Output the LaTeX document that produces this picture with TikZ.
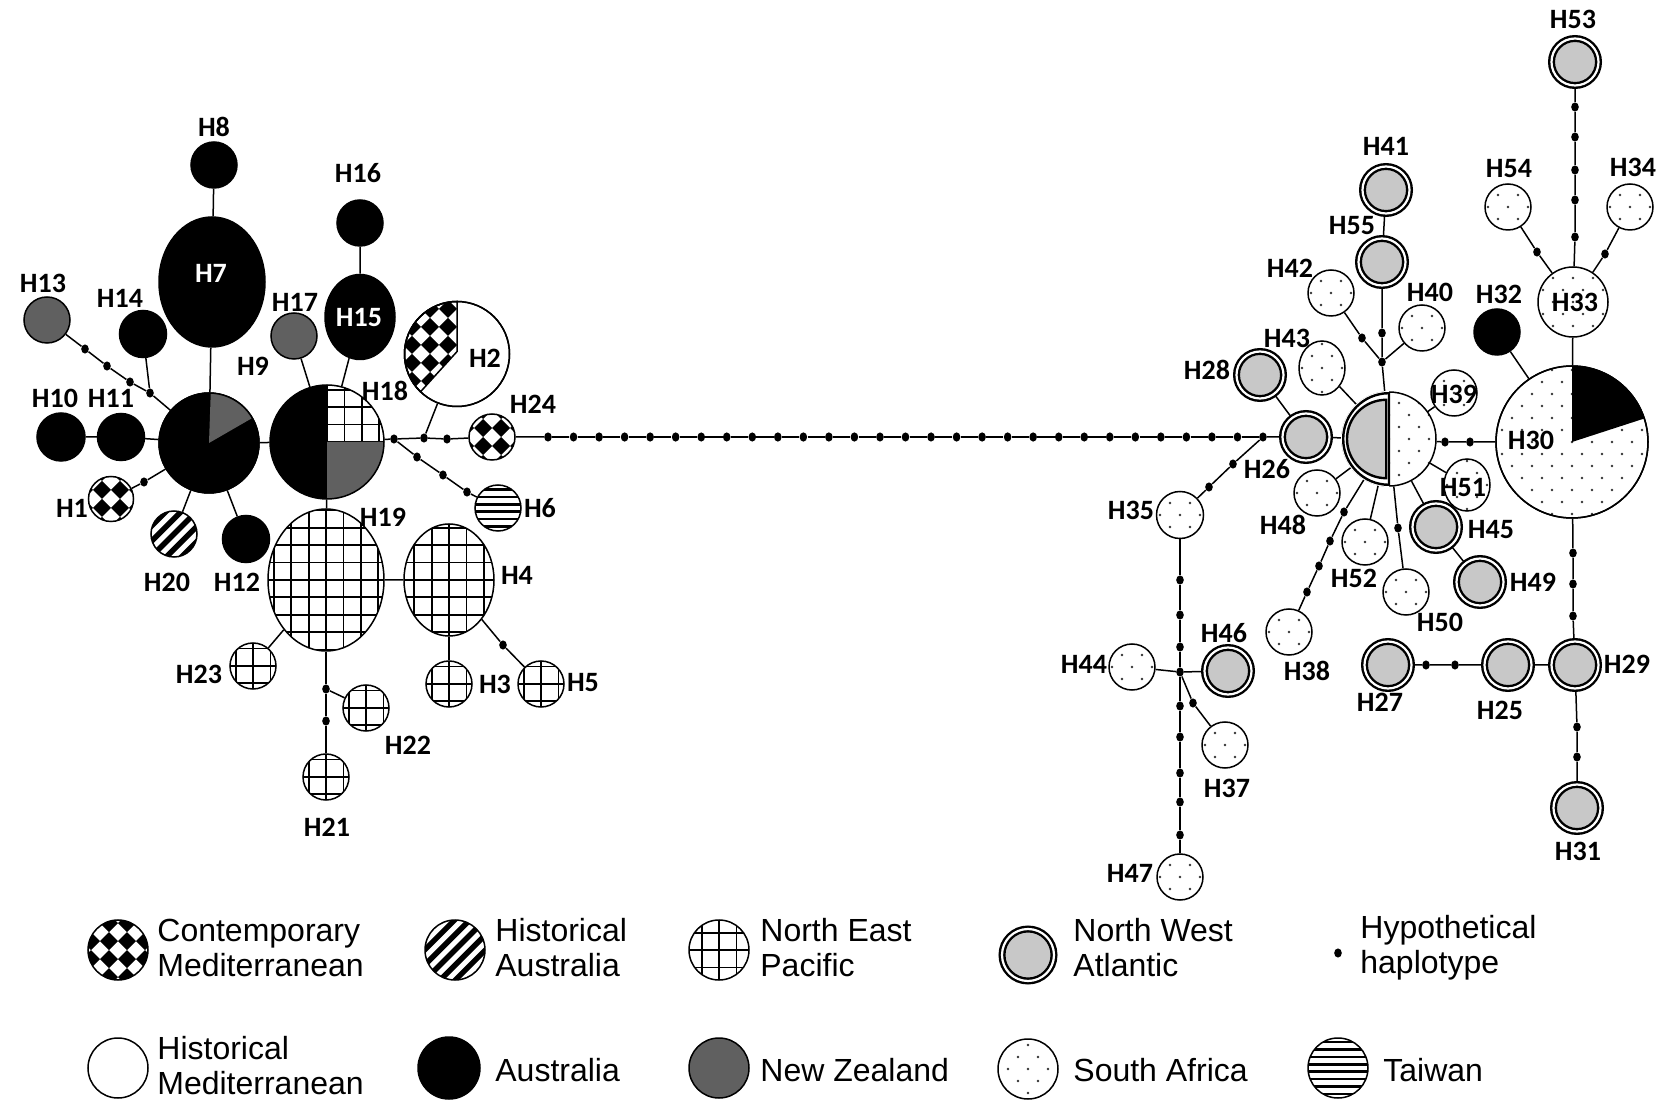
\documentclass[tikz,border=0pt]{standalone}
\usepackage{fontspec}
\setmainfont{Liberation Sans}
\newfontfamily\labfont{Carlito}
\usetikzlibrary{shapes.geometric}
\pgfdeclarelayer{bg}
\pgfsetlayers{bg,main}
\definecolor{nzg}{RGB}{96,96,96}
\definecolor{nwag}{RGB}{200,200,200}
\newcommand\hlab{\labfont\bfseries\fontsize{14pt}{16pt}\selectfont}
\newcommand\legf{\fontsize{16pt}{17.5pt}\selectfont}
\tikzset{
  ed/.style={line width=0.75pt},
  hap/.style={circle, draw=black, line width=0.75pt, inner sep=0pt, minimum size=#1pt},
  hapE/.style 2 args={ellipse, draw=black, line width=0.75pt, inner sep=0pt, minimum width=#1pt, minimum height=#2pt},
  hyp/.style={ellipse, fill=black, inner sep=0pt, minimum width=3.8pt, minimum height=4.6pt},
  lab/.style={font=\hlab, inner sep=0pt},
  pAUS/.style={fill=black},
  pNZ/.style={fill=nzg},
  pHM/.style={fill=white},
  pNWA/.style={circle, inner sep=0pt, minimum size=#1pt, fill=nwag, draw=black, line width=1.2pt, double=white, double distance=1.1pt},
  pSA/.style={fill=white, path picture={
    \foreach \j in {-7,...,7}{
      \foreach \i in {-4,...,4}{
        \pgfmathsetmacro\xo{\i*10+mod(abs(\j),2)*5}
        \fill[black!80] ([shift={(\xo pt,\j*6pt)}]path picture bounding box.center) circle[radius=0.7pt];
    }}}},
  pCM/.style={fill=white, path picture={
    \foreach \i in {-3,...,2}{\foreach \j in {-3,...,2}{
      \fill[black] ([shift={(\i*9pt,\j*9pt+4.5pt)}]path picture bounding box.center) -- ++(4.5pt,4.5pt) -- ++(4.5pt,-4.5pt) -- ++(-4.5pt,-4.5pt) -- cycle;
    }}}},
  pHA/.style={fill=white, path picture={
    \foreach \k in {-6,...,6}{
      \draw[line width=2.7pt] ([xshift=\k*7.6pt]path picture bounding box.center) ++(-22pt,-22pt) -- ++(44pt,44pt);
    }}},
  pNEP/.style={fill=white, path picture={
    \foreach \k in {-5,...,5}{
      \draw[line width=0.9pt] ([xshift=\k*8.7pt]path picture bounding box.center) ++(0,-40pt) -- ++(0,80pt);
      \draw[line width=0.9pt] ([yshift=\k*8.7pt]path picture bounding box.center) ++(-40pt,0) -- ++(80pt,0);
    }}},
  pTW/.style={fill=white, path picture={
    \foreach \k in {-5,...,4}{
      \draw[line width=1.3pt] ([yshift=\k*3.7pt+1.85pt]path picture bounding box.center) ++(-20pt,0) -- ++(40pt,0);
    }}},
}
\begin{document}
\begin{tikzpicture}[x=0.5pt,y=-0.5pt]
\useasboundingbox (0,0) rectangle (1678,1101);

% ---------------- left cluster ----------------
\node[hap=23, pAUS] (h8) at (214,165) {};
\node[hapE={53}{65}, pAUS] (h7) at (212,282) {};
\node[hap=23, pAUS] (h16) at (360,223) {};
\node[hapE={35}{42.5}, pAUS] (h15) at (360,317) {};
\node[hap=23, pNZ] (h13) at (47,320) {};
\node[hap=23.5, pAUS] (h14) at (143,334) {};
\node[hap=23, pNZ] (h17) at (294,336) {};
\node[hap=50, pAUS] (h9) at (209,443) {};
\node[circle, inner sep=0pt, minimum size=57pt] (h18) at (327,442) {};
\node[hap=24, pAUS] (h10) at (61,437) {};
\node[hap=23.5, pAUS] (h11) at (121,437) {};
\node[hap=22.5, pCM] (h1) at (111,499) {};
\node[hap=23, pHA] (h20) at (174,534) {};
\node[hap=23.5, pAUS] (h12) at (246,539) {};
\node[hap=52.5, pHM] (h2) at (457,354) {};
\node[hap=23, pCM] (h24) at (492,437) {};
\node[hap=23, pTW] (h6) at (498,508) {};
\node[hapE={58}{71}, pNEP] (h19) at (326,580) {};
\node[hapE={45}{56}, pNEP] (h4) at (449,580) {};
\node[hap=23, pNEP] (h23) at (253,666) {};
\node[hap=23, pNEP] (h21) at (326,777) {};
\node[hap=23, pNEP] (h22) at (366,708) {};
\node[hap=23, pNEP] (h3) at (449,684) {};
\node[hap=23, pNEP] (h5) at (541,684) {};

% H9 pie
\fill[nzg] (h9.center) -- ++(30:25pt) arc[start angle=30, end angle=88, radius=25pt] -- cycle;
\draw[line width=0.75pt] (h9.center) circle[radius=25pt];
% H18 pie
\fill[white] (h18.center) circle[radius=28.5pt];
\fill[black] (h18.center) ++(0,28.5pt) arc[start angle=90, end angle=270, radius=28.5pt] -- cycle;
\begin{scope}
  \clip (h18.center) -- ++(28.5pt,0) arc[start angle=0, end angle=90, radius=28.5pt] -- cycle;
  \foreach \k in {0,...,4}{
    \draw[line width=0.9pt] ([xshift=\k*8.7pt]h18.center) ++(0,-1pt) -- ++(0,31pt);
    \draw[line width=0.9pt] ([yshift=\k*8.7pt]h18.center) ++(-1pt,0) -- ++(31pt,0);
  }
\end{scope}
\fill[nzg] (h18.center) -- ++(0,-28.5pt) arc[start angle=-90, end angle=0, radius=28.5pt] -- cycle;
\draw[line width=0.75pt] (h18.center) circle[radius=28.5pt];
% H2 pie
\begin{scope}
  \clip (h2.center) ++(0,1.2pt) -- ++(0,25.05pt) arc[start angle=90, end angle=226, radius=26.25pt] -- cycle;
  \foreach \i in {-4,...,3}{\foreach \j in {-4,...,3}{
    \fill[black] ([shift={(\i*9pt,\j*9pt+4.5pt)}]h2.center) -- ++(4.5pt,4.5pt) -- ++(4.5pt,-4.5pt) -- ++(-4.5pt,-4.5pt) -- cycle;
  }}
\end{scope}
\draw[line width=0.75pt] (h2.center) ++(0,1.2pt) -- ++(0,25.05pt) arc[start angle=90, end angle=226, radius=26.25pt] -- cycle;
\draw[line width=0.75pt] (h2.center) circle[radius=26.25pt];

% hypothetical dots left
\node[hyp] (da1) at (85,349) {};
\node[hyp] (da2) at (107,366) {};
\node[hyp] (da3) at (130,382) {};
\node[hyp] (da4) at (150,393) {};
\node[hyp] (db1) at (144,482) {};
\node[hyp] (dc1) at (394,439) {};
\node[hyp] (dc2) at (424,438) {};
\node[hyp] (dc3) at (447,439) {};
\node[hyp] (dd1) at (417,457) {};
\node[hyp] (dd2) at (443,475) {};
\node[hyp] (dd3) at (467,492) {};
\node[hyp] (df1) at (326,689) {};
\node[hyp] (df2) at (326,721) {};
\node[hyp] (dg1) at (503,645) {};
\foreach \n in {1,...,29}{\node[hyp] (e\n) at ({548+(\n-1)*25.536},437) {};}

% ---------------- right cluster ----------------
\node[pNWA=23.5] (h26) at (1306,437) {};
\node[pNWA=23.5] (h28) at (1260,375) {};
\node[pNWA=23.5] (h41) at (1386,190) {};
\node[pNWA=23.5] (h55) at (1382,262) {};
\node[hap=23, pSA] (h42) at (1331,293) {};
\node[hap=23, pSA] (h40) at (1422,328) {};
\node[hapE={23}{27}, pSA] (h43) at (1322,368) {};
\node[hap=47, pSA] (h36) at (1389,439) {};
\node[hap=23, pSA] (h39) at (1454,393) {};
\node[hap=76, pSA] (h30) at (1572,442) {};
\node[hap=23, pAUS] (h32) at (1497,332) {};
\node[hap=35, pSA] (h33) at (1573,302) {};
\node[pNWA=23.5] (h53) at (1575,62) {};
\node[hap=23, pSA] (h54) at (1508,207) {};
\node[hap=23, pSA] (h34) at (1630,207) {};
\node[hap=23.5, pSA] (h35) at (1180,515) {};
\node[hap=23, pSA] (h44) at (1132,667) {};
\node[pNWA=23.5] (h46) at (1228,671) {};
\node[hap=23, pSA] (h37) at (1225,745) {};
\node[hap=23, pSA] (h47) at (1180,877) {};
\node[hap=23, pSA] (h48) at (1317,493) {};
\node[hap=23, pSA] (h38) at (1289,632) {};
\node[hap=23, pSA] (h52) at (1365,542) {};
\node[hap=23, pSA] (h50) at (1406,592) {};
\node[pNWA=23.5] (h45) at (1436,527) {};
\node[hapE={23}{26}, pSA] (h51) at (1467,485) {};
\node[pNWA=23.5] (h49) at (1480,582) {};
\node[pNWA=23.5] (h27) at (1388,665) {};
\node[pNWA=23.5] (h25) at (1508,665) {};
\node[pNWA=23.5] (h29) at (1575,665) {};
\node[pNWA=23.5] (h31) at (1577,808) {};

% H36 left half (North West Atlantic)
\fill[white] (h36.center) ++(0,24pt) arc[start angle=90, end angle=270, radius=24pt] -- cycle;
\draw[line width=1.2pt] (h36.center) ++(0,22.9pt) arc[start angle=90, end angle=270, radius=22.9pt] -- cycle;
\draw[line width=1.2pt, fill=nwag] (h36.center) ++(-1.4pt,19.6pt) arc[start angle=90, end angle=270, radius=19.6pt] -- cycle;
% H30 wedge
\fill[black] (h30.center) -- ++(18:38pt) arc[start angle=18, end angle=90, radius=38pt] -- cycle;
\draw[line width=0.75pt] (h30.center) circle[radius=38pt];

% hypothetical dots right
\node[hyp] (di1) at (1233,464) {};
\node[hyp] (di2) at (1209,487) {};
\node[hyp] (dj1) at (1382,362) {};
\node[hyp] (dj2) at (1382,333) {};
\node[hyp] (dk1) at (1362,338) {};
\node[hyp] (dl1) at (1445,442) {};
\node[hyp] (dl2) at (1470,442) {};
\node[hyp] (dm1) at (1398,528) {};
\node[hyp] (dn1) at (1344,512) {};
\node[hyp] (dn2) at (1330,541) {};
\node[hyp] (dn3) at (1319,566) {};
\node[hyp] (dn4) at (1307,592) {};
\node[hyp] (dp1) at (1575,107) {};
\node[hyp] (dp2) at (1575,137) {};
\node[hyp] (dp3) at (1575,170) {};
\node[hyp] (dp4) at (1575,200) {};
\node[hyp] (dp5) at (1575,237) {};
\node[hyp] (dq1) at (1537,252) {};
\node[hyp] (dr1) at (1605,254) {};
\node[hyp] (ds1) at (1573,553) {};
\node[hyp] (ds2) at (1573,584) {};
\node[hyp] (ds3) at (1573,616) {};
\node[hyp] (dt1) at (1426,665) {};
\node[hyp] (dt2) at (1455,665) {};
\node[hyp] (du1) at (1577,727) {};
\node[hyp] (du2) at (1577,757) {};
\node[hyp] (dv1) at (1180,580) {};
\node[hyp] (dv2) at (1180,615) {};
\node[hyp] (dv3) at (1180,647) {};
\node[hyp] (dv4) at (1180,672) {};
\node[hyp] (dv5) at (1180,706) {};
\node[hyp] (dv6) at (1180,737) {};
\node[hyp] (dv7) at (1180,773) {};
\node[hyp] (dv8) at (1180,802) {};
\node[hyp] (dv9) at (1180,835) {};
\node[hyp] (dw1) at (1193,703) {};

% ---------------- connectors ----------------
\begin{pgfonlayer}{bg}
\fill[white] (0,0) rectangle (1678,1101);
\draw[ed] (h8) -- (h7) -- (h9);
\draw[ed] (h16) -- (h15) -- (h18);
\draw[ed] (h17) -- (h18);
\draw[ed] (h13) -- (da1) -- (da2) -- (da3) -- (da4) -- (h9);
\draw[ed] (h14) -- (da4);
\draw[ed] (h10) -- (h11) -- (h9);
\draw[ed] (h1) -- (db1) -- (h9);
\draw[ed] (h20) -- (h9);
\draw[ed] (h12) -- (h9);
\draw[ed] (h9) -- (h18);
\draw[ed] (h18) -- (dc1) -- (dc2) -- (dc3) -- (h24) -- (e1);
\draw[ed] (h2) -- (dc2);
\draw[ed] (dc1) -- (dd1) -- (dd2) -- (dd3) -- (h6);
\draw[ed] (h18) -- (h19) -- (h4);
\draw[ed] (h19) -- (h23);
\draw[ed] (h19) -- (df1) -- (df2) -- (h21);
\draw[ed] (df1) -- (h22);
\draw[ed] (h4) -- (h3);
\draw[ed] (h4) -- (dg1) -- (h5);
\foreach \n [count=\m from 2] in {1,...,28}{\draw[ed] (e\n) -- (e\m);}
\draw[ed] (e29) -- (h26) -- (h36);
\draw[ed] (e29) -- (di1) -- (di2) -- (h35);
\draw[ed] (h28) -- (h26);
\draw[ed] (h36) -- (dj1) -- (dj2) -- (h55) -- (h41);
\draw[ed] (dj1) -- (dk1) -- (h42);
\draw[ed] (dj1) -- (h40);
\draw[ed] (h43) -- (h36);
\draw[ed] (h36) -- (h39);
\draw[ed] (h36) -- (dl1) -- (dl2) -- (h30);
\draw[ed] (h36) -- (h51);
\draw[ed] (h36) -- (h45) -- (h49);
\draw[ed] (h36) -- (dm1) -- (h50);
\draw[ed] (h36) -- (h52);
\draw[ed] (h36) -- (dn1) -- (dn2) -- (dn3) -- (dn4) -- (h38);
\draw[ed] (h36) -- (h48);
\draw[ed] (h32) -- (h30);
\draw[ed] (h33) -- (h30);
\draw[ed] (h33) -- (dp5) -- (dp4) -- (dp3) -- (dp2) -- (dp1) -- (h53);
\draw[ed] (h33) -- (dq1) -- (h54);
\draw[ed] (h33) -- (dr1) -- (h34);
\draw[ed] (h30) -- (ds1) -- (ds2) -- (ds3) -- (h29) -- (h25) -- (dt2) -- (dt1) -- (h27);
\draw[ed] (h29) -- (du1) -- (du2) -- (h31);
\draw[ed] (h35) -- (dv1) -- (dv2) -- (dv3) -- (dv4) -- (dv5) -- (dv6) -- (dv7) -- (dv8) -- (dv9) -- (h47);
\draw[ed] (dv4) -- (h44);
\draw[ed] (dv4) -- (h46);
\draw[ed] (dv4) -- (dw1) -- (h37);
\end{pgfonlayer}

% ---------------- labels ----------------
\node[lab] (l8) at (214,127) {H8};
\node[lab, text=white] (l7) at (211,273) {H7};
\node[lab] (l16) at (358,173) {H16};
\node[lab, text=white] (l15) at (359,318) {H15};
\node[lab] (l13) at (43,283) {H13};
\node[lab] (l14) at (120,298) {H14};
\node[lab] (l17) at (295,302) {H17};
\node[lab] (l9) at (253,366) {H9};
\node[lab] (l18) at (385,391) {H18};
\node[lab] (l2) at (485,358) {H2};
\node[lab] (l24) at (533,404) {H24};
\node[lab] (l10) at (55,398) {H10};
\node[lab] (l11) at (111,398) {H11};
\node[lab] (l1) at (72,508) {H1};
\node[lab] (l20) at (167,582) {H20};
\node[lab] (l12) at (237,582) {H12};
\node[lab] (l6) at (540,508) {H6};
\node[lab] (l19) at (383,517) {H19};
\node[lab] (l4) at (517,575) {H4};
\node[lab] (l23) at (199,674) {H23};
\node[lab] (l22) at (408,745) {H22};
\node[lab] (l21) at (327,827) {H21};
\node[lab] (l3) at (495,684) {H3};
\node[lab] (l5) at (583,683) {H5};

\node[lab] (l53) at (1573,19) {H53};
\node[lab] (l41) at (1386,146) {H41};
\node[lab] (l54) at (1509,169) {H54};
\node[lab] (l34) at (1633,167) {H34};
\node[lab] (l55) at (1352,226) {H55};
\node[lab] (l42) at (1290,268) {H42};
\node[lab] (l40) at (1430,292) {H40};
\node[lab] (l32) at (1499,294) {H32};
\node[lab] (l33) at (1575,302) {H33};
\node[lab] (l43) at (1287,338) {H43};
\node[lab] (l28) at (1207,370) {H28};
\node[lab] (l39) at (1454,394) {H39};
\node[lab] (l30) at (1531,440) {H30};
\node[lab] (l26) at (1267,469) {H26};
\node[lab] (l51) at (1463,488) {H51};
\node[lab] (l35) at (1131,510) {H35};
\node[lab] (l48) at (1283,525) {H48};
\node[lab] (l45) at (1491,530) {H45};
\node[lab] (l52) at (1354,578) {H52};
\node[lab] (l49) at (1533,582) {H49};
\node[lab] (l50) at (1440,622) {H50};
\node[lab] (l46) at (1224,633) {H46};
\node[lab] (l44) at (1084,664) {H44};
\node[lab] (l38) at (1307,671) {H38};
\node[lab] (l27) at (1380,702) {H27};
\node[lab] (l29) at (1627,664) {H29};
\node[lab] (l25) at (1500,710) {H25};
\node[lab] (l37) at (1227,788) {H37};
\node[lab] (l31) at (1578,851) {H31};
\node[lab] (l47) at (1130,873) {H47};

% ---------------- legend ----------------
\node[hap=30, pCM] (g1) at (118,950) {};
\node[anchor=west, align=left, font=\legf, inner sep=0pt] (t1) at (157,948) {Contemporary\\Mediterranean};
\node[hap=30, pHA] (g2) at (455,950) {};
\node[anchor=west, align=left, font=\legf, inner sep=0pt] (t2) at (495,948) {Historical\\Australia};
\node[hap=30, pNEP] (g3) at (719,950) {};
\node[anchor=west, align=left, font=\legf, inner sep=0pt] (t3) at (760,948) {North East\\Pacific};
\node[pNWA=26] (g4) at (1028,955) {};
\node[anchor=west, align=left, font=\legf, inner sep=0pt] (t4) at (1073,948) {North West\\Atlantic};
\node[hyp] (g5) at (1338,953) {};
\node[anchor=west, align=left, font=\legf, inner sep=0pt] (t5) at (1360,948) {Hypothetical\\haplotype};

\node[hap=30, pHM] (g6) at (118,1068) {};
\node[anchor=west, align=left, font=\legf, inner sep=0pt] (t6) at (157,1066) {Historical\\Mediterranean};
\node[hap=31, pAUS] (g7) at (449,1068) {};
\node[anchor=west, font=\legf, inner sep=0pt] (t7) at (495,1070) {Australia};
\node[hap=30, pNZ] (g8) at (719,1068) {};
\node[anchor=west, font=\legf, inner sep=0pt] (t8) at (760,1070) {New Zealand};
\node[hap=30, pSA] (g9) at (1028,1069) {};
\node[anchor=west, font=\legf, inner sep=0pt] (t9) at (1073,1070) {South Africa};
\node[hap=30, pTW] (g10) at (1338,1068) {};
\node[anchor=west, font=\legf, inner sep=0pt] (t10) at (1383,1070) {Taiwan};
\end{tikzpicture}
\end{document}
